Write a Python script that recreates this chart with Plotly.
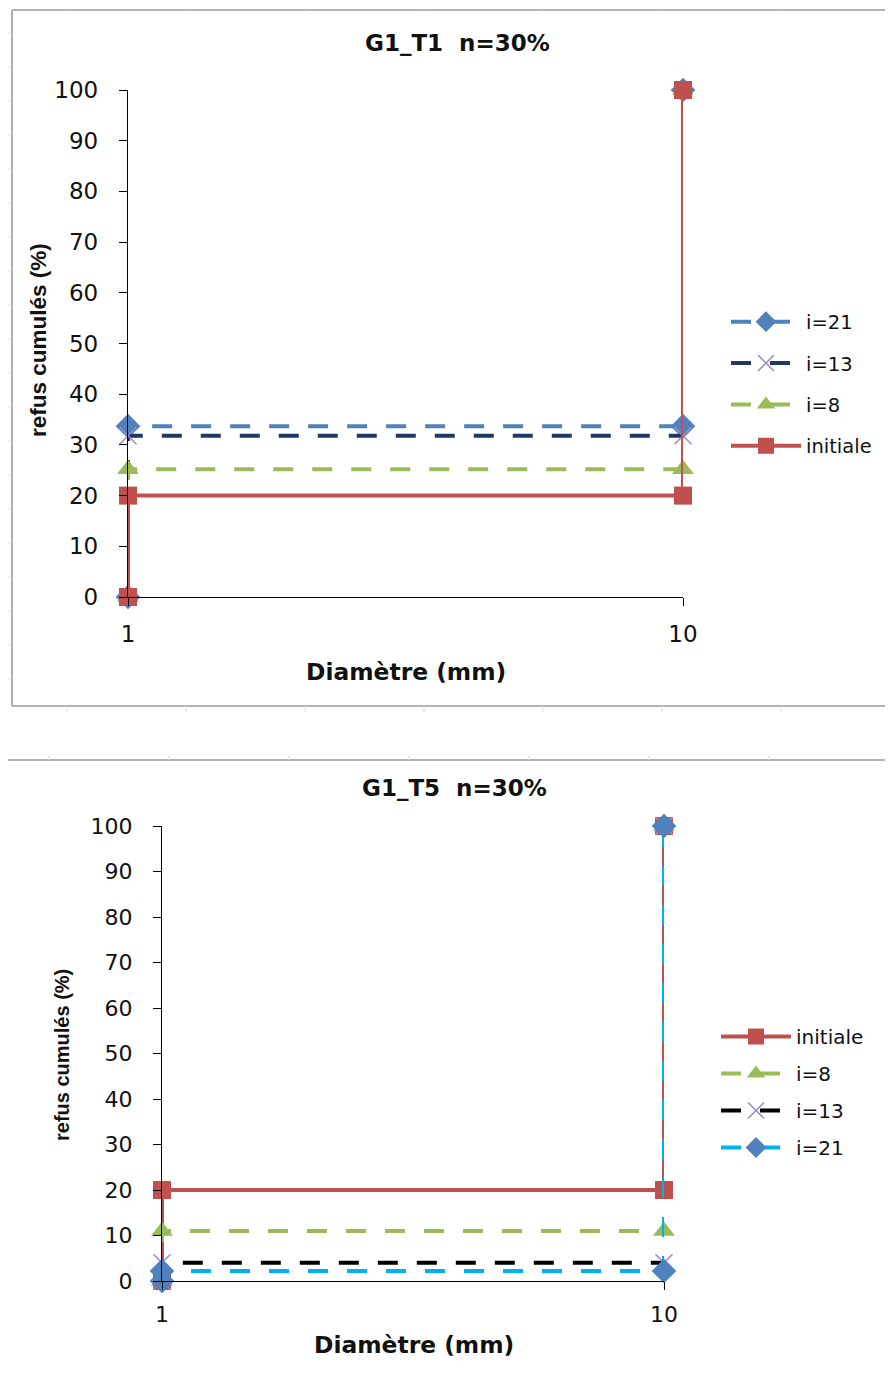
import plotly.graph_objects as go

W, H = 877, 1360   # page = figure + 2*8px body margin = 893 x 1376 window
OFF = 8  # page body margin of the html page

# ---------------- data ----------------
diam = [1, 1, 10, 10]
x_ticks = [1, 10]
x_tick_labels = ["1", "10"]
y_ticks = [0, 10, 20, 30, 40, 50, 60, 70, 80, 90, 100]

t1_title = "G1_T1&nbsp;&nbsp;n=30%"
t1_initiale = [0, 20, 20, 100]
t1_i8 = [0, 25.2, 25.2, 100]
t1_i13 = [0, 31.8, 31.8, 100]
t1_i21 = [0, 33.7, 33.7, 100]

t5_title = "G1_T5&nbsp;&nbsp;n=30%"
t5_initiale = [0, 20, 20, 100]
t5_i8 = [0, 11, 11, 100]
t5_i13 = [0, 4, 4, 100]
t5_i21 = [0, 2.2, 2.2, 100]

x_title = "Diamètre (mm)"
y_title = "refus cumulés (%)"

# ---------------- styles ----------------
RED = "#C0504D"
GREEN = "#9BBB59"
BLUE = "#4F81BD"
NAVY = "#1F3864"
PURPLE = "#A08CC8"
CYAN = "#00B0F0"
DASH = "20px,19px"
LW = 4
FONT = "DejaVu Sans"


def px(x):
    return (x - OFF) / W


def py(y):
    return 1 - (y - OFF) / H


def series(name, y, line_color, dash, symbol, mcolor, xa, ya, legend, group):
    mk = dict(symbol=symbol, size=18, color=mcolor)
    if symbol == "x-thin":
        mk = dict(symbol=symbol, size=17, color=mcolor, line=dict(color=mcolor, width=1.6))
    elif symbol in ("triangle-up", "diamond"):
        mk["size"] = 19
    return go.Scatter(
        x=diam, y=y, name=name, mode="lines+markers",
        line=dict(color=line_color, width=LW, dash=dash),
        marker=mk, xaxis=xa, yaxis=ya, legend=legend, legendgroup=group,
        cliponaxis=False,
    )


fig = go.Figure()

# top chart: drawn i=21, i=13, i=8, initiale (red on top)
fig.add_trace(series("i=21", t1_i21, BLUE, DASH, "diamond", BLUE, "x", "y", "legend", "a1"))
fig.add_trace(series("i=13", t1_i13, NAVY, DASH, "x-thin", PURPLE, "x", "y", "legend", "a2"))
fig.add_trace(series("i=8", t1_i8, GREEN, DASH, "triangle-up", GREEN, "x", "y", "legend", "a3"))
fig.add_trace(series("initiale", t1_initiale, RED, "solid", "square", RED, "x", "y", "legend", "a4"))

# bottom chart: drawn initiale, i=8, i=13, i=21 (cyan on top)
fig.add_trace(series("initiale", t5_initiale, RED, "solid", "square", RED, "x2", "y2", "legend2", "b1"))
fig.add_trace(series("i=8", t5_i8, GREEN, DASH, "triangle-up", GREEN, "x2", "y2", "legend2", "b2"))
fig.add_trace(series("i=13", t5_i13, "#000000", DASH, "x-thin", PURPLE, "x2", "y2", "legend2", "b3"))
fig.add_trace(series("i=21", t5_i21, CYAN, DASH, "diamond", BLUE, "x2", "y2", "legend2", "b4"))


def xaxis_style(size, standoff):
    return dict(type="log", range=[0, 1], tickvals=x_ticks, ticktext=x_tick_labels,
                showgrid=False, zeroline=False, showline=True, linecolor="#000000", linewidth=1.3,
                ticks="outside", ticklen=8, tickwidth=1.3, tickcolor="#000000",
                tickfont=dict(family=FONT, size=size, color="#111111"),
                ticklabelstandoff=standoff, automargin=False)


def yaxis_style(size, standoff):
    return dict(range=[0, 100], tickvals=y_ticks, showgrid=False, zeroline=False, showline=True,
                linecolor="#000000", linewidth=1.3, ticks="outside", ticklen=8, tickwidth=1.3,
                tickcolor="#000000", tickfont=dict(family=FONT, size=size, color="#111111"),
                ticklabelstandoff=standoff, automargin=False)


fig.update_layout(
    width=W, height=H, margin=dict(l=0, r=0, t=0, b=0, pad=0, autoexpand=False),
    paper_bgcolor="white", plot_bgcolor="white",
    xaxis=dict(domain=[px(128), px(683)], anchor="y", **xaxis_style(23, 8)),
    yaxis=dict(domain=[py(597), py(90)], anchor="x", **yaxis_style(23, 16)),
    xaxis2=dict(domain=[px(162), px(664)], anchor="y2", **xaxis_style(22, 5)),
    yaxis2=dict(domain=[py(1281), py(826)], anchor="x2", **yaxis_style(22, 16)),
    legend=dict(x=px(726), xanchor="left", y=py(384), yanchor="middle",
                font=dict(family=FONT, size=19.5, color="#111111"), itemwidth=70,
                tracegroupgap=13, bgcolor="rgba(0,0,0,0)"),
    legend2=dict(x=px(716), xanchor="left", y=py(1092), yanchor="middle",
                 font=dict(family=FONT, size=20, color="#111111"), itemwidth=70,
                 tracegroupgap=8, bgcolor="rgba(0,0,0,0)"),
)

annos = [
    dict(text="<b>%s</b>" % t1_title, x=px(457), y=py(43), font=dict(family=FONT, size=23)),
    dict(text="<b>%s</b>" % x_title, x=px(406), y=py(672), font=dict(family=FONT, size=23.4)),
    dict(text="<b>%s</b>" % y_title, x=px(38), y=py(340), textangle=-90,
         font=dict(family="Liberation Sans", size=22.5)),
    dict(text="<b>%s</b>" % t5_title, x=px(455), y=py(788), font=dict(family=FONT, size=23)),
    dict(text="<b>%s</b>" % x_title, x=px(414), y=py(1345), font=dict(family=FONT, size=23.4)),
    dict(text="<b>%s</b>" % y_title, x=px(62), y=py(1055), textangle=-90,
         font=dict(family="Liberation Sans", size=20)),
]
for a in annos:
    a.update(xref="paper", yref="paper", showarrow=False, xanchor="center", yanchor="middle")
    a["font"]["color"] = "#111111"
    fig.add_annotation(**a)

FRAME = dict(color="#9a9a9a", width=1.6)
shapes = []


def hline(x0, x1, y, line):
    shapes.append(dict(type="line", xref="paper", yref="paper", x0=px(x0), x1=px(x1),
                       y0=py(y), y1=py(y), line=line, layer="below"))


def vline(x, y0, y1, line):
    shapes.append(dict(type="line", xref="paper", yref="paper", x0=px(x), x1=px(x),
                       y0=py(y0), y1=py(y1), line=line, layer="below"))


# chart frames (right/bottom edges run off the page)
hline(12, 905, 10, FRAME)
hline(12, 905, 706, FRAME)
vline(12, 10, 706, FRAME)
hline(7, 905, 760, FRAME)
vline(7, 760, 1395, FRAME)

# faint spreadsheet gridline stubs
STUB = dict(color="#dddddd", width=1)
for yy in range(33, 700, 34):
    hline(OFF, 11.5, yy, STUB)
for xx in range(67, 893, 119):
    vline(xx, OFF, 10, STUB)
    vline(xx, 706, 712, STUB)
for xx in range(49, 893, 120):
    vline(xx, 755, 760, STUB)
for yy in range(776, 1376, 27):
    hline(OFF, 6.5, yy, STUB)
fig.update_layout(shapes=shapes)

fig.write_html("out.html")
